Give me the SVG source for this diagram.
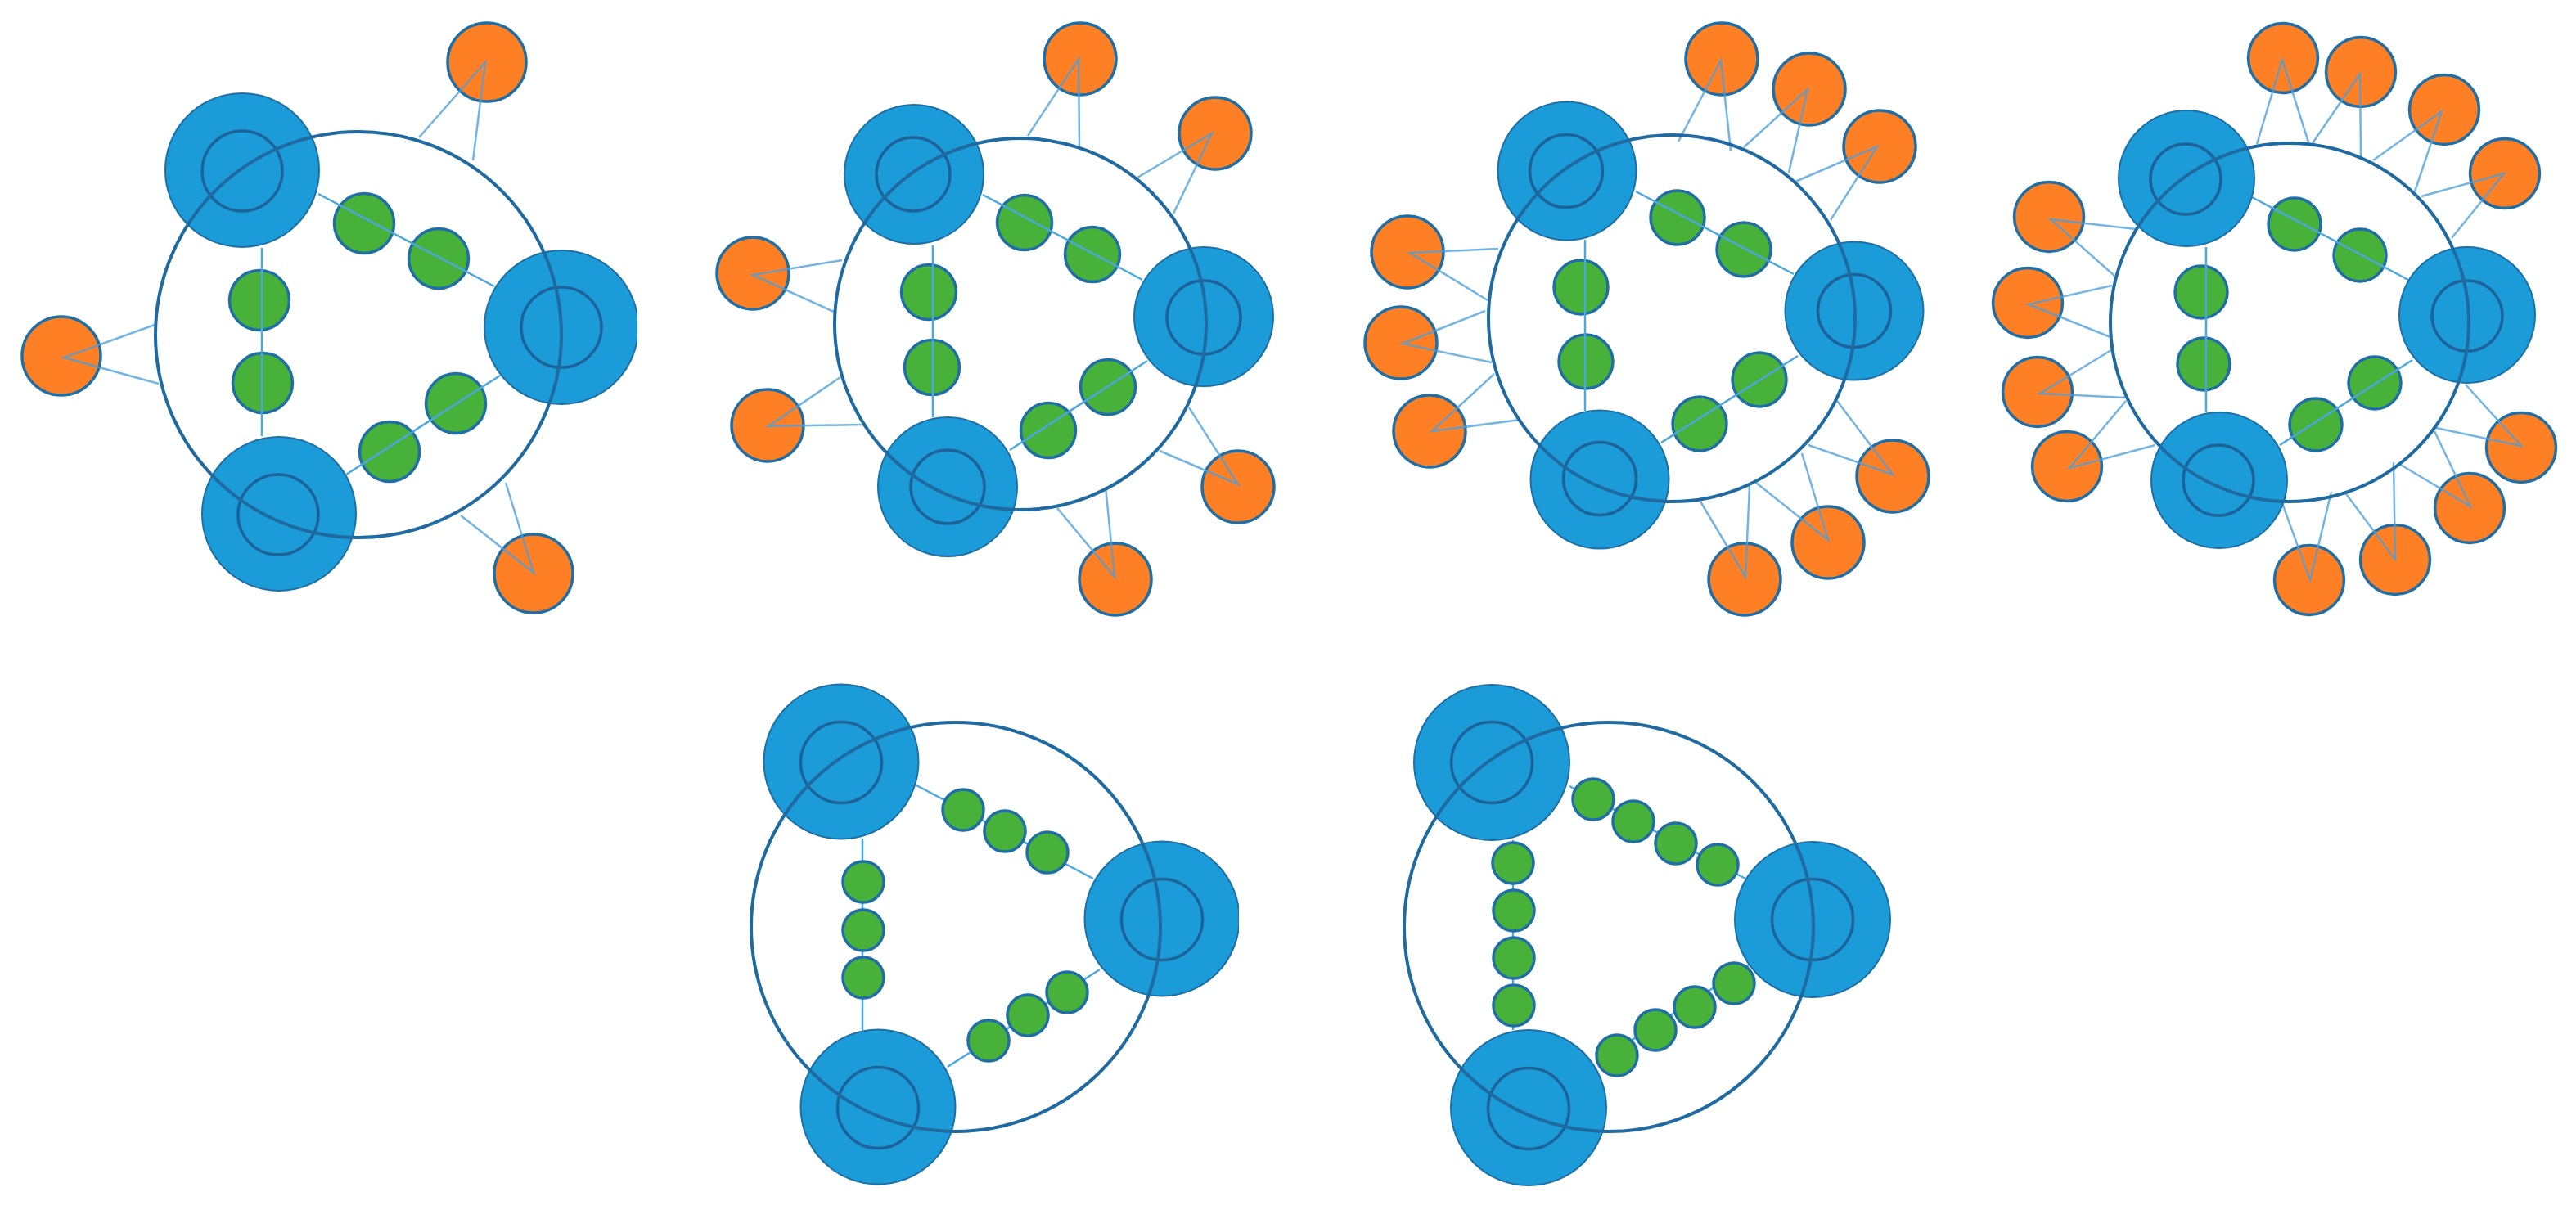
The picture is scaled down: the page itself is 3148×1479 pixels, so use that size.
<svg xmlns="http://www.w3.org/2000/svg" width="3148" height="1479" viewBox="0 0 3148 1479">
<style>
.ring{fill:none;stroke:#1f6aa0;stroke-width:4}
.blue{fill:#1b9cd8;stroke:#1d6fa5;stroke-width:2}
.inner{fill:none;stroke:#1d6399;stroke-width:3.5}
.green{fill:#47b13a;stroke:#1f6ea6;stroke-width:3.5}
.orange{fill:#ff7f24;stroke:#1f6ea6;stroke-width:3.5}
.link{stroke:#4aa8e0;stroke-width:2.5;fill:none}
.v{stroke:#4a9fdc;stroke-opacity:.78;stroke-width:2.5;fill:none;stroke-linejoin:miter}
</style>
<defs>
<clipPath id="c1"><rect x="0" y="0" width="779" height="1479"/></clipPath>
<clipPath id="c5"><rect x="0" y="0" width="1514" height="1479"/></clipPath>
</defs>
<rect width="3148" height="1479" fill="#ffffff"/>

<!-- orange nodes -->
<g id="d1-o1"><circle class="orange" cx="595" cy="76" r="48"/></g>
<g id="d1-o2"><circle class="orange" cx="75" cy="435" r="48"/></g>
<g id="d1-o3"><circle class="orange" cx="652" cy="701" r="48"/></g>

<g id="d2-o1"><circle class="orange" cx="1320" cy="72" r="44"/></g>
<g id="d2-o2"><circle class="orange" cx="1485" cy="163" r="44"/></g>
<g id="d2-o3"><circle class="orange" cx="920" cy="334" r="44"/></g>
<g id="d2-o4"><circle class="orange" cx="938" cy="520" r="44"/></g>
<g id="d2-o5"><circle class="orange" cx="1513" cy="595" r="44"/></g>
<g id="d2-o6"><circle class="orange" cx="1363" cy="708" r="44"/></g>

<g id="d3-o1"><circle class="orange" cx="2104" cy="72" r="44"/></g>
<g id="d3-o2"><circle class="orange" cx="2211" cy="109" r="44"/></g>
<g id="d3-o3"><circle class="orange" cx="2297" cy="179" r="44"/></g>
<g id="d3-o4"><circle class="orange" cx="1720" cy="308" r="44"/></g>
<g id="d3-o5"><circle class="orange" cx="1712" cy="419" r="44"/></g>
<g id="d3-o6"><circle class="orange" cx="1747" cy="527" r="44"/></g>
<g id="d3-o7"><circle class="orange" cx="2313" cy="582" r="44"/></g>
<g id="d3-o8"><circle class="orange" cx="2234" cy="663" r="44"/></g>
<g id="d3-o9"><circle class="orange" cx="2132" cy="708" r="44"/></g>

<g id="d4-o1"><circle class="orange" cx="2790" cy="71" r="42.5"/></g>
<g id="d4-o2"><circle class="orange" cx="2885" cy="88" r="42.5"/></g>
<g id="d4-o3"><circle class="orange" cx="2987" cy="134" r="42.5"/></g>
<g id="d4-o4"><circle class="orange" cx="3061" cy="212" r="42.5"/></g>
<g id="d4-o5"><circle class="orange" cx="2504" cy="265" r="42.5"/></g>
<g id="d4-o6"><circle class="orange" cx="2478" cy="370" r="42.5"/></g>
<g id="d4-o7"><circle class="orange" cx="2490" cy="479" r="42.5"/></g>
<g id="d4-o8"><circle class="orange" cx="2526" cy="570" r="42.5"/></g>
<g id="d4-o9"><circle class="orange" cx="3081" cy="547" r="42.5"/></g>
<g id="d4-o10"><circle class="orange" cx="3018" cy="621" r="42.5"/></g>
<g id="d4-o11"><circle class="orange" cx="2927" cy="684" r="42.5"/></g>
<g id="d4-o12"><circle class="orange" cx="2822" cy="709" r="42.5"/></g>

<!-- green nodes (drawn under connectors) -->
<g id="d1-g1"><circle class="green" cx="445" cy="273" r="36.5"/></g>
<g id="d1-g2"><circle class="green" cx="536" cy="316" r="36.5"/></g>
<g id="d1-g3"><circle class="green" cx="317" cy="367" r="36.5"/></g>
<g id="d1-g4"><circle class="green" cx="321" cy="468" r="36.5"/></g>
<g id="d1-g5"><circle class="green" cx="557" cy="493" r="36.5"/></g>
<g id="d1-g6"><circle class="green" cx="476" cy="552" r="36.5"/></g>

<g id="d2-g1"><circle class="green" cx="1252" cy="272" r="33.5"/></g>
<g id="d2-g2"><circle class="green" cx="1335" cy="311" r="33.5"/></g>
<g id="d2-g3"><circle class="green" cx="1135" cy="357" r="33.5"/></g>
<g id="d2-g4"><circle class="green" cx="1139" cy="449" r="33.5"/></g>
<g id="d2-g5"><circle class="green" cx="1354" cy="473" r="33.5"/></g>
<g id="d2-g6"><circle class="green" cx="1281" cy="526" r="33.5"/></g>

<g id="d3-g1"><circle class="green" cx="2050" cy="266" r="33"/></g>
<g id="d3-g2"><circle class="green" cx="2131" cy="305" r="33"/></g>
<g id="d3-g3"><circle class="green" cx="1932" cy="351" r="33"/></g>
<g id="d3-g4"><circle class="green" cx="1938" cy="442" r="33"/></g>
<g id="d3-g5"><circle class="green" cx="2150" cy="464" r="33"/></g>
<g id="d3-g6"><circle class="green" cx="2077" cy="518" r="33"/></g>

<g id="d4-g1"><circle class="green" cx="2804" cy="274" r="32"/></g>
<g id="d4-g2"><circle class="green" cx="2884" cy="312" r="32"/></g>
<g id="d4-g3"><circle class="green" cx="2690" cy="357" r="32"/></g>
<g id="d4-g4"><circle class="green" cx="2693" cy="445" r="32"/></g>
<g id="d4-g5"><circle class="green" cx="2902" cy="468" r="32"/></g>
<g id="d4-g6"><circle class="green" cx="2830" cy="519" r="32"/></g>

<!-- connectors -->
<g id="connectors">
<line class="link" x1="389" y1="237" x2="604" y2="350"/>
<line class="link" x1="320" y1="303" x2="320" y2="533"/>
<line class="link" x1="423" y1="580" x2="611" y2="459"/>
<polyline class="v" points="512,168 593,76 578,196"/>
<polyline class="v" points="189,397 78,437 194,469"/>
<polyline class="v" points="563,630 652,700 618,590"/>

<line class="link" x1="1201" y1="238" x2="1396" y2="342"/>
<line class="link" x1="1140" y1="300" x2="1140" y2="510"/>
<line class="link" x1="1234" y1="550" x2="1402" y2="441"/>
<polyline class="v" points="1256,166 1318,72 1319,178"/>
<polyline class="v" points="1390,217 1481,163 1434,261"/>
<polyline class="v" points="1029,318 920,336 1019,381"/>
<polyline class="v" points="1027,461 939,521 1053,519"/>
<polyline class="v" points="1453,498 1513,592 1417,551"/>
<polyline class="v" points="1292,621 1362,705 1351,595"/>

<line class="link" x1="1999" y1="234" x2="2192" y2="335"/>
<line class="link" x1="1937" y1="293" x2="1937" y2="502"/>
<line class="link" x1="2030" y1="541" x2="2197" y2="435"/>
<polyline class="v" points="2051,173 2103,74 2115,184"/>
<polyline class="v" points="2131,180 2209,109 2186,211"/>
<polyline class="v" points="2194,222 2294,179 2237,269"/>
<polyline class="v" points="1831,304 1723,309 1818,367"/>
<polyline class="v" points="1815,380 1714,420 1823,443"/>
<polyline class="v" points="1826,457 1750,527 1858,513"/>
<polyline class="v" points="2245,490 2313,580 2210,544"/>
<polyline class="v" points="2202,554 2234,660 2146,590"/>
<polyline class="v" points="2078,613 2133,705 2138,594"/>

<line class="link" x1="2752" y1="241" x2="2943" y2="342"/>
<line class="link" x1="2696" y1="302" x2="2696" y2="504"/>
<line class="link" x1="2786" y1="544" x2="2948" y2="440"/>
<polyline class="v" points="2758,176 2789,73 2822,177"/>
<polyline class="v" points="2826,175 2884,90 2885,192"/>
<polyline class="v" points="2900,196 2984,136 2951,234"/>
<polyline class="v" points="2959,240 3060,212 2996,291"/>
<polyline class="v" points="2610,280 2506,268 2584,337"/>
<polyline class="v" points="2581,349 2479,372 2579,412"/>
<polyline class="v" points="2580,428 2493,481 2597,486"/>
<polyline class="v" points="2598,490 2529,572 2634,544"/>
<polyline class="v" points="3013,470 3081,545 2977,523"/>
<polyline class="v" points="2975,527 3019,619 2932,567"/>
<polyline class="v" points="2925,565 2927,684 2865,601"/>
<polyline class="v" points="2789,615 2823,709 2849,601"/>

<line class="link" x1="1120" y1="960" x2="1336" y2="1074"/>
<line class="link" x1="1054" y1="1025" x2="1054" y2="1259"/>
<line class="link" x1="1158" y1="1304" x2="1344" y2="1185"/>

<line class="link" x1="1918" y1="961" x2="2133" y2="1074"/>
<line class="link" x1="1849" y1="1027" x2="1849" y2="1259"/>
<line class="link" x1="1954" y1="1297" x2="2143" y2="1176"/>
</g>

<!-- green nodes of lower diagrams (over connectors) -->
<g id="d5-g1"><circle class="green" cx="1177" cy="990" r="25"/></g>
<g id="d5-g2"><circle class="green" cx="1228" cy="1016" r="25"/></g>
<g id="d5-g3"><circle class="green" cx="1280" cy="1042" r="25"/></g>
<g id="d5-g4"><circle class="green" cx="1055" cy="1078" r="25"/></g>
<g id="d5-g5"><circle class="green" cx="1055" cy="1137" r="25"/></g>
<g id="d5-g6"><circle class="green" cx="1055" cy="1195" r="25"/></g>
<g id="d5-g7"><circle class="green" cx="1304" cy="1213" r="25"/></g>
<g id="d5-g8"><circle class="green" cx="1256" cy="1241" r="25"/></g>
<g id="d5-g9"><circle class="green" cx="1208" cy="1272" r="25"/></g>

<g id="d6-g1"><circle class="green" cx="1947" cy="977" r="25"/></g>
<g id="d6-g2"><circle class="green" cx="1996" cy="1004" r="25"/></g>
<g id="d6-g3"><circle class="green" cx="2048" cy="1031" r="25"/></g>
<g id="d6-g4"><circle class="green" cx="2099" cy="1057" r="25"/></g>
<g id="d6-g5"><circle class="green" cx="1849" cy="1055" r="25"/></g>
<g id="d6-g6"><circle class="green" cx="1850" cy="1113" r="25"/></g>
<g id="d6-g7"><circle class="green" cx="1850" cy="1171" r="25"/></g>
<g id="d6-g8"><circle class="green" cx="1850" cy="1229" r="25"/></g>
<g id="d6-g9"><circle class="green" cx="2119" cy="1202" r="25"/></g>
<g id="d6-g10"><circle class="green" cx="2071" cy="1231" r="25"/></g>
<g id="d6-g11"><circle class="green" cx="2023" cy="1259" r="25"/></g>
<g id="d6-g12"><circle class="green" cx="1976" cy="1290" r="25"/></g>

<!-- blue hubs -->
<g id="d1-b1"><circle class="blue" cx="296" cy="208" r="94"/><circle class="inner" cx="296" cy="209" r="49"/></g>
<g id="d1-b2" clip-path="url(#c1)"><circle class="blue" cx="686" cy="400" r="94"/><circle class="inner" cx="686" cy="400" r="49"/></g>
<g id="d1-b3"><circle class="blue" cx="341" cy="628" r="94"/><circle class="inner" cx="340" cy="629" r="49"/></g>

<g id="d2-b1"><circle class="blue" cx="1117" cy="213" r="85"/><circle class="inner" cx="1116" cy="213" r="45"/></g>
<g id="d2-b2"><circle class="blue" cx="1471" cy="387" r="85"/><circle class="inner" cx="1471" cy="388" r="45"/></g>
<g id="d2-b3"><circle class="blue" cx="1158" cy="595" r="85"/><circle class="inner" cx="1158" cy="595" r="45"/></g>

<g id="d3-b1"><circle class="blue" cx="1915" cy="209" r="84.5"/><circle class="inner" cx="1914" cy="209" r="44.5"/></g>
<g id="d3-b2"><circle class="blue" cx="2266" cy="380" r="84.5"/><circle class="inner" cx="2266" cy="380" r="44.5"/></g>
<g id="d3-b3"><circle class="blue" cx="1955" cy="586" r="84.5"/><circle class="inner" cx="1955" cy="585" r="44.5"/></g>

<g id="d4-b1"><circle class="blue" cx="2672" cy="218" r="83"/><circle class="inner" cx="2671" cy="219" r="43"/></g>
<g id="d4-b2"><circle class="blue" cx="3015" cy="385" r="83"/><circle class="inner" cx="3015" cy="386" r="43"/></g>
<g id="d4-b3"><circle class="blue" cx="2712" cy="587" r="83"/><circle class="inner" cx="2711" cy="587" r="43"/></g>

<g id="d5-b1"><circle class="blue" cx="1028" cy="931" r="94.5"/><circle class="inner" cx="1028" cy="932" r="49.5"/></g>
<g id="d5-b2" clip-path="url(#c5)"><circle class="blue" cx="1420" cy="1123" r="94.5"/><circle class="inner" cx="1420" cy="1124" r="49.5"/></g>
<g id="d5-b3"><circle class="blue" cx="1073" cy="1353" r="94.5"/><circle class="inner" cx="1073" cy="1354" r="49.5"/></g>

<g id="d6-b1"><circle class="blue" cx="1823" cy="932" r="95"/><circle class="inner" cx="1823" cy="932" r="49.5"/></g>
<g id="d6-b2"><circle class="blue" cx="2215" cy="1124" r="95"/><circle class="inner" cx="2215" cy="1124" r="49.5"/></g>
<g id="d6-b3"><circle class="blue" cx="1868" cy="1354" r="95"/><circle class="inner" cx="1868" cy="1355" r="49.5"/></g>

<!-- rings -->
<g id="d1-ring"><circle class="ring" cx="438" cy="409" r="248"/></g>
<g id="d2-ring"><circle class="ring" cx="1247" cy="396" r="227"/></g>
<g id="d3-ring"><circle class="ring" cx="2043" cy="389" r="224"/></g>
<g id="d4-ring"><circle class="ring" cx="2798" cy="394" r="219"/></g>
<g id="d5-ring"><circle class="ring" cx="1168" cy="1133" r="250"/></g>
<g id="d6-ring"><circle class="ring" cx="1966" cy="1133" r="250"/></g>
</svg>
